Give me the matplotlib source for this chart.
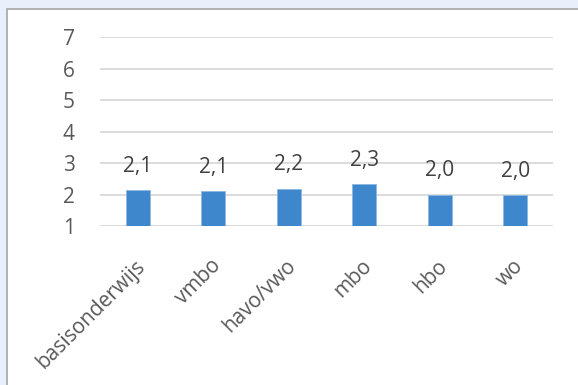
import matplotlib.pyplot as plt
import matplotlib.transforms as mtransforms
from matplotlib.patches import Rectangle

# data
categories = ['basisonderwijs', 'vmbo', 'havo/vwo', 'mbo', 'hbo', 'wo']
values = [2.14, 2.11, 2.19, 2.32, 2.0, 1.99]
yticks = [1, 2, 3, 4, 5, 6, 7]

plt.rcParams['font.family'] = ['Open Sans', 'DejaVu Sans']

fig = plt.figure(figsize=(5.78, 3.85), dpi=100)
fig.patch.set_facecolor('#E9F0FB')

# white chart area with a grey frame (screenshot of a spreadsheet chart)
frame = Rectangle((6.5 / 578, -0.05), 1.1, 1 - 8.5 / 385 + 0.05,
                  transform=fig.transFigure, facecolor='white',
                  edgecolor='#A6A6A6', linewidth=1.2, zorder=-10)
fig.patches.append(frame)

ax = fig.add_axes([100 / 578, 159 / 385, 453 / 578, 188.7 / 385])
ax.set_facecolor('none')

x = list(range(len(categories)))
bars = ax.bar(x, [v - 1 for v in values], bottom=1, width=0.315,
              color='#3F87CD', edgecolor='#8DB8E3', linewidth=0.6, zorder=3)

for xi, v in zip(x, values):
    ax.annotate(f'{v:.1f}'.replace('.', ','), (xi, v), xytext=(0, 17),
                textcoords='offset points', ha='center', va='center',
                fontsize=15, color='#404040', zorder=4)

ax.set_xlim(-0.5, len(categories) - 0.5)
ax.set_ylim(1, 7)
ax.set_yticks(yticks)
ax.set_yticklabels([str(t) for t in yticks])
ax.yaxis.grid(True, color='#D9D9D9', linewidth=1.3, zorder=0)
ax.set_axisbelow(True)
for s in ax.spines.values():
    s.set_visible(False)
ax.tick_params(axis='y', length=0, pad=18, labelsize=15, labelcolor='#595959')
ax.tick_params(axis='x', length=0, pad=4, labelsize=15, labelcolor='#595959')

ax.set_xticks(x)
ax.set_xticklabels(categories, rotation=45, ha='right', va='top',
                   rotation_mode='anchor')
shift = mtransforms.ScaledTranslation(-3 / 100, -24 / 100, fig.dpi_scale_trans)
for lbl in ax.get_xticklabels():
    lbl.set_transform(lbl.get_transform() + shift)

fig.savefig('out.png', dpi=100, facecolor=fig.get_facecolor())
